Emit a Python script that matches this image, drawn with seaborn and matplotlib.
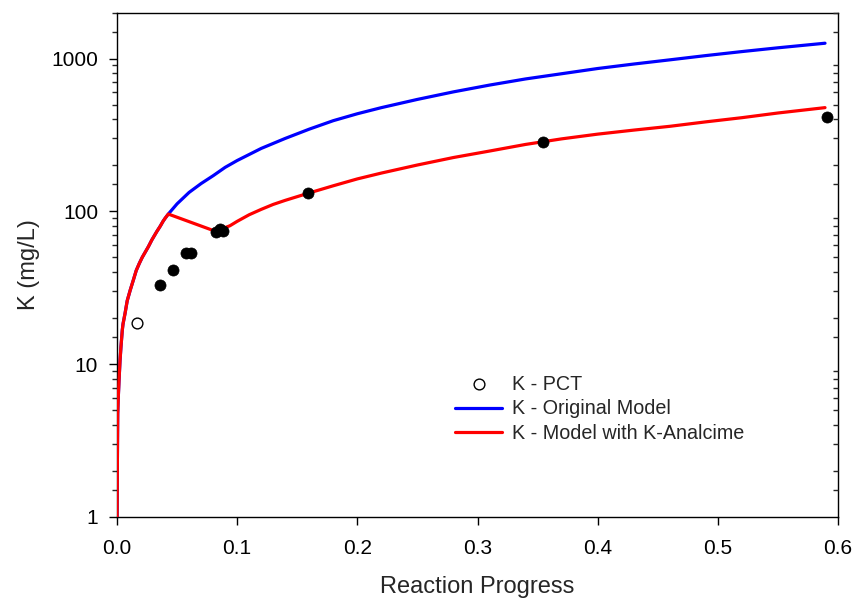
import numpy as np
import pandas as pd
import matplotlib
matplotlib.use("Agg")
import matplotlib.pyplot as plt
import seaborn as sns
from matplotlib.ticker import FixedLocator, FixedFormatter, NullLocator, NullFormatter

# ---- data ----
pct_x = [0.0164]
pct_k = [18.5]

obs_x = [0.0358, 0.0469, 0.0574, 0.0616, 0.0824, 0.0857, 0.0882, 0.1592, 0.3548, 0.5911]
obs_k = [33.0, 41.3, 53.1, 53.1, 73.2, 76.6, 74.3, 131.0, 285.6, 416.0]

# shared early part of both model curves
early_x = [0.0, 0.0004, 0.0006, 0.0010, 0.0017, 0.0025, 0.0033, 0.0044, 0.0050, 0.0067,
           0.0085, 0.0110, 0.0136, 0.0160, 0.0186, 0.0210, 0.0261, 0.0290, 0.0330,
           0.0360, 0.0383, 0.0400, 0.0427]
early_k = [0.9, 2.87, 4.76, 5.9, 7.86, 10.5, 13.0, 16.7, 18.3, 21.5,
           26.0, 30.5, 35.5, 41.0, 45.7, 50.0, 58.7, 65.0, 73.5,
           80.0, 86.0, 90.0, 96.0]

orig_x = early_x + [0.050, 0.060, 0.070, 0.080, 0.090, 0.100, 0.120, 0.140, 0.160, 0.180,
                    0.200, 0.220, 0.250, 0.280, 0.310, 0.340, 0.370, 0.400, 0.430,
                    0.460, 0.490, 0.520, 0.550, 0.5892]
orig_k = early_k + [112.0, 133.0, 152.0, 171.0, 194.0, 215.0, 258.0, 300.0, 345.0, 392.0,
                    435.0, 477.0, 540.0, 605.0, 670.0, 735.0, 795.0, 860.0, 920.0,
                    980.0, 1045.0, 1110.0, 1175.0, 1259.0]

kan_x = early_x + [0.082, 0.094, 0.100, 0.110, 0.120, 0.130, 0.140, 0.160, 0.180, 0.200,
                   0.220, 0.250, 0.280, 0.310, 0.340, 0.370, 0.400, 0.430, 0.460,
                   0.490, 0.520, 0.550, 0.5892]
kan_k = early_k + [74.0, 80.5, 86.0, 95.0, 103.0, 111.0, 118.0, 132.0, 147.0, 163.0,
                   178.0, 201.0, 225.0, 248.0, 274.0, 298.0, 320.0, 340.0, 360.0,
                   385.0, 410.0, 440.0, 477.0]

x_ticks = [0.0, 0.1, 0.2, 0.3, 0.4, 0.5, 0.6]
x_tick_labels = ["0.0", "0.1", "0.2", "0.3", "0.4", "0.5", "0.6"]
y_ticks = [1, 10, 100, 1000]
y_tick_labels = ["1", "10", "100", "1000"]

# ---- style ----
sns.set_style("white")
plt.rcParams["font.family"] = ["Liberation Sans", "DejaVu Sans"]

fig = plt.figure(figsize=(8.54, 5.99), dpi=100)
ax = fig.add_axes([117 / 854, 1 - 517 / 599, 721 / 854, 504.5 / 599])

df_orig = pd.DataFrame({"x": orig_x, "K": orig_k})
df_kan = pd.DataFrame({"x": kan_x, "K": kan_k})
df_obs = pd.DataFrame({"x": obs_x, "K": obs_k})
df_pct = pd.DataFrame({"x": pct_x, "K": pct_k})

sns.lineplot(data=df_orig, x="x", y="K", ax=ax, color="#0000ff", lw=2.3,
             sort=False, estimator=None, label="K - Original Model", zorder=2)
sns.lineplot(data=df_kan, x="x", y="K", ax=ax, color="#ff0000", lw=2.3,
             sort=False, estimator=None, label="K - Model with K-Analcime", zorder=3)
sns.scatterplot(data=df_obs, x="x", y="K", ax=ax, color="black", s=64,
                edgecolor="black", linewidth=0.5, legend=False, zorder=4)
sns.scatterplot(data=df_pct, x="x", y="K", ax=ax, facecolor="white", s=60,
                edgecolor="black", linewidth=1.0, label="K - PCT", zorder=4)

ax.set_yscale("log")
ax.set_xlim(0, 0.6)
ax.set_ylim(1, 2000)

ax.xaxis.set_major_locator(FixedLocator(x_ticks))
ax.xaxis.set_major_formatter(FixedFormatter(x_tick_labels))
ax.xaxis.set_minor_locator(NullLocator())
ax.yaxis.set_major_locator(FixedLocator(y_ticks))
ax.yaxis.set_major_formatter(FixedFormatter(y_tick_labels))
minors = [m * 10 ** e for e in range(0, 4) for m in (1.5, 2, 3, 4, 5, 6, 7, 8, 9)]
minors = [v for v in minors if v <= 2000]
ax.yaxis.set_minor_locator(FixedLocator(minors))
ax.yaxis.set_minor_formatter(NullFormatter())

ax.tick_params(axis="both", which="major", direction="out", length=5.5, width=1.0,
               labelsize=15, colors="black", left=True, bottom=True)
ax.tick_params(axis="y", which="minor", direction="out", length=3.3, width=1.0, left=True)
ax.tick_params(axis="x", which="major", pad=10)
ax.tick_params(axis="y", which="major", pad=8)

for s in ax.spines.values():
    s.set_color("black")
    s.set_linewidth(1.0)

# right axis: inward minor ticks only
ax2 = ax.twinx()
ax2.set_yscale("log")
ax2.set_ylim(1, 2000)
ax2.yaxis.set_major_locator(NullLocator())
ax2.yaxis.set_minor_locator(FixedLocator(minors))
ax2.yaxis.set_minor_formatter(NullFormatter())
ax2.tick_params(axis="y", which="minor", direction="in", length=3.3, width=1.0, right=True)
for s in ax2.spines.values():
    s.set_visible(False)

ax.set_xlabel("Reaction Progress", fontsize=17, labelpad=13)
ax.set_ylabel("K (mg/L)", fontsize=17, labelpad=8)

handles, labels = ax.get_legend_handles_labels()
order = [labels.index("K - PCT"), labels.index("K - Original Model"),
         labels.index("K - Model with K-Analcime")]
ax.legend([handles[i] for i in order], [labels[i] for i in order],
          loc="upper left", bbox_to_anchor=(0.458, 0.298), frameon=False,
          fontsize=14.2, handlelength=2.4, handletextpad=0.5, labelspacing=0.3,
          borderaxespad=0)

fig.savefig("out.png", dpi=100)
